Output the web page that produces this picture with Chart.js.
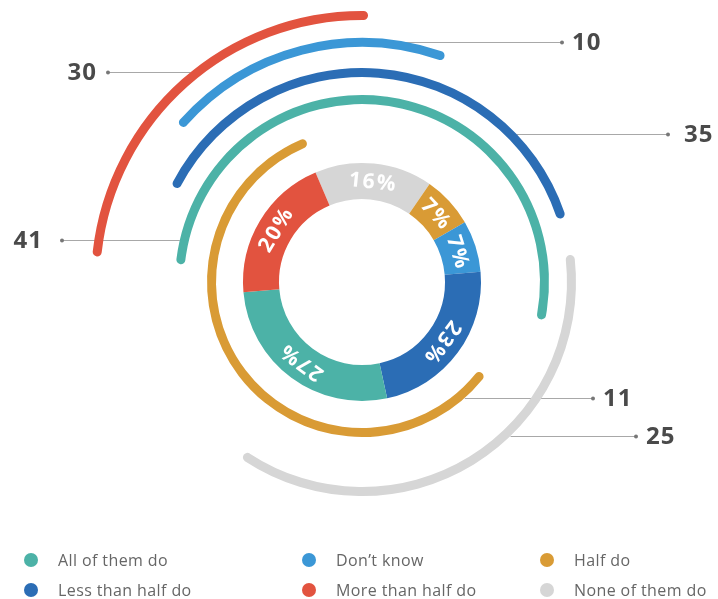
<!DOCTYPE html>
<html>
<head>
<meta charset="utf-8">
<script src="https://cdn.jsdelivr.net/npm/chart.js@4.4.0/dist/chart.umd.min.js"></script>
<style>
  html, body { margin: 0; padding: 0; background: #fff; }
  #wrap { position: relative; width: 718px; height: 599px; overflow: hidden; }
  #rings { position: absolute; left: 0; top: 0; }
  .key { position: absolute; font: 400 16px "Open Sans", sans-serif; letter-spacing: 0.4px; color: #666; white-space: nowrap; }
  .key i { position: absolute; left: 0; top: 0; width: 14px; height: 14px; border-radius: 50%; }
  .key span { position: absolute; left: 34px; top: -4px; }
</style>
</head>
<body>
<div id="wrap">
  <canvas id="rings" width="718" height="555"></canvas>
</div>
<script>
// answer categories (legend order)
const categories = ['All of them do', 'Don\u2019t know', 'Half do', 'Less than half do', 'More than half do', 'None of them do'];
const colors = ['#4cb2a7', '#3b97d6', '#d99b35', '#2b6db5', '#e2533f', '#d6d6d6'];

// share of respondents, %
const shares = [27, 7, 7, 23, 20, 16];
// counts shown on the outer arcs
const counts = [41, 10, 11, 35, 30, 25];

// donut runs clockwise starting with "None of them do"
const donutOrder = ['None of them do', 'Half do', 'Don\u2019t know', 'Less than half do', 'All of them do', 'More than half do'];

// outer arcs: which ring, and where each one starts/ends (degrees clockwise from 12 o'clock)
const arcLayout = {
  'More than half do': { ring: 0, from: -84.5, to: 1.3 },
  'Don\u2019t know':   { ring: 1, from: -49.3, to: 20.1 },
  'Less than half do': { ring: 2, from: -63.2, to: 72.3 },
  'None of them do':   { ring: 2, from: 82.6, to: 214.4 },
  'All of them do':    { ring: 3, from: -84.4, to: 101.8 },
  'Half do':           { ring: 4, from: 127.2, to: 338.4 }
};
// ring thickness and the gap below each ring, px
const ringWidth = 9;
const ringGaps = [18, 21, 18, 23, 27];

// callout lines next to the arcs
const callouts = [
  { cat: 'More than half do', dy: -210, dotX: 108, textX: 97,  align: 'right' },
  { cat: 'Don\u2019t know',   dy: -240, dotX: 562, textX: 572, align: 'left' },
  { cat: 'Less than half do', dy: -148, dotX: 668, textX: 684, align: 'left' },
  { cat: 'All of them do',    dy: -42,  dotX: 62,  textX: 43,  align: 'right' },
  { cat: 'Half do',           dy: 116,  dotX: 593, textX: 603, align: 'left' },
  { cat: 'None of them do',   dy: 154,  dotX: 636, textX: 646, align: 'left' }
];

const colorOf = c => colors[categories.indexOf(c)];

function arcDataset(cat) {
  const a = arcLayout[cat];
  return {
    label: cat,
    data: [counts[categories.indexOf(cat)]],
    backgroundColor: colorOf(cat),
    rotation: a.from,
    circumference: a.to - a.from,
    weight: ringWidth,
    borderWidth: 0,
    borderRadius: 5
  };
}
const spacer = w => ({ label: '', data: [], weight: w });

// outermost first; the grey arc sits on the same ring as "Less than half do"
const datasets = [
  arcDataset('More than half do'), spacer(ringGaps[0]),
  arcDataset('Don\u2019t know'), spacer(ringGaps[1]),
  arcDataset('Less than half do'), spacer(ringGaps[2]),
  arcDataset('All of them do'), spacer(ringGaps[3]),
  arcDataset('Half do'), spacer(ringGaps[4]),
  {
    label: 'share',
    data: donutOrder.map(c => shares[categories.indexOf(c)]),
    backgroundColor: donutOrder.map(colorOf),
    rotation: -23,
    weight: 36,
    borderWidth: 0
  },
  Object.assign(arcDataset('None of them do'), { weight: 0 })
];
const donutIndex = 10, sharedWith = 4, grayIndex = 11;

const sharedRing = {
  id: 'sharedRing',
  afterDatasetsUpdate(chart) {
    const ref = chart.getDatasetMeta(sharedWith).data[0];
    chart.getDatasetMeta(grayIndex).data.forEach(el => {
      el.innerRadius = ref.innerRadius;
      el.outerRadius = ref.outerRadius;
    });
  }
};

const calloutLines = {
  id: 'calloutLines',
  beforeDatasetsDraw(chart) {
    const ctx = chart.ctx;
    ctx.save();
    ctx.strokeStyle = '#a8a8a8';
    ctx.lineWidth = 1;
    callouts.forEach(c => {
      const idx = datasets.findIndex(d => d.label === c.cat);
      const el = chart.getDatasetMeta(idx === grayIndex ? sharedWith : idx).data[0];
      const R = el.outerRadius;
      const dx = Math.sqrt(Math.max(R * R - c.dy * c.dy, 0));
      const y = Math.round(el.y + c.dy) + 0.5;
      const x0 = c.align === 'right' ? el.x - dx : el.x + dx;
      ctx.beginPath();
      ctx.moveTo(x0, y);
      ctx.lineTo(c.dotX, y);
      ctx.stroke();
    });
    ctx.restore();
  },
  afterDatasetsDraw(chart) {
    const ctx = chart.ctx;
    const center = chart.getDatasetMeta(donutIndex).data[0];
    ctx.save();
    callouts.forEach(c => {
      const y = Math.round(center.y + c.dy) + 0.5;
      ctx.fillStyle = '#777';
      ctx.beginPath();
      ctx.arc(c.dotX, y, 2, 0, Math.PI * 2);
      ctx.fill();
      ctx.fillStyle = '#4a4a4a';
      ctx.font = '700 24px "Open Sans", sans-serif';
      ctx.letterSpacing = '1px';
      ctx.textAlign = c.align === 'right' ? 'right' : 'left';
      ctx.textBaseline = 'middle';
      ctx.fillText(String(counts[categories.indexOf(c.cat)]), c.textX, y + 1);
    });

    // percentage labels around the donut
    const meta = chart.getDatasetMeta(donutIndex);
    ctx.fillStyle = '#fff';
    ctx.font = '700 21px "Open Sans", sans-serif';
    ctx.letterSpacing = '2px';
    ctx.textAlign = 'center';
    ctx.textBaseline = 'middle';
    meta.data.forEach((el, i) => {
      const mid = (el.startAngle + el.endAngle) / 2;
      const r = (el.innerRadius + el.outerRadius) / 2;
      ctx.save();
      ctx.translate(el.x + Math.cos(mid) * r, el.y + Math.sin(mid) * r);
      ctx.rotate(mid + Math.PI / 2);
      ctx.fillText(datasets[donutIndex].data[i] + '%', 1, 1);
      ctx.restore();
    });
    ctx.restore();
  }
};

new Chart(document.getElementById('rings'), {
  type: 'doughnut',
  data: { labels: categories, datasets: datasets },
  options: {
    responsive: false,
    animation: false,
    events: [],
    cutout: 83,
    hoverOffset: 0,
    layout: { padding: { left: 91, right: 85, top: 11, bottom: 2 } },
    plugins: { legend: { display: false }, tooltip: { enabled: false } }
  },
  plugins: [sharedRing, calloutLines]
});

// legend grid, three columns by two rows
const wrap = document.getElementById('wrap');
const cols = [24, 302, 540], rows = [553, 583];
categories.forEach((c, i) => {
  const k = document.createElement('div');
  k.className = 'key';
  k.style.left = cols[i % 3] + 'px';
  k.style.top = rows[Math.floor(i / 3)] + 'px';
  k.innerHTML = '<i style="background:' + colors[i] + '"></i><span>' + c + '</span>';
  wrap.appendChild(k);
});
</script>
</body>
</html>
